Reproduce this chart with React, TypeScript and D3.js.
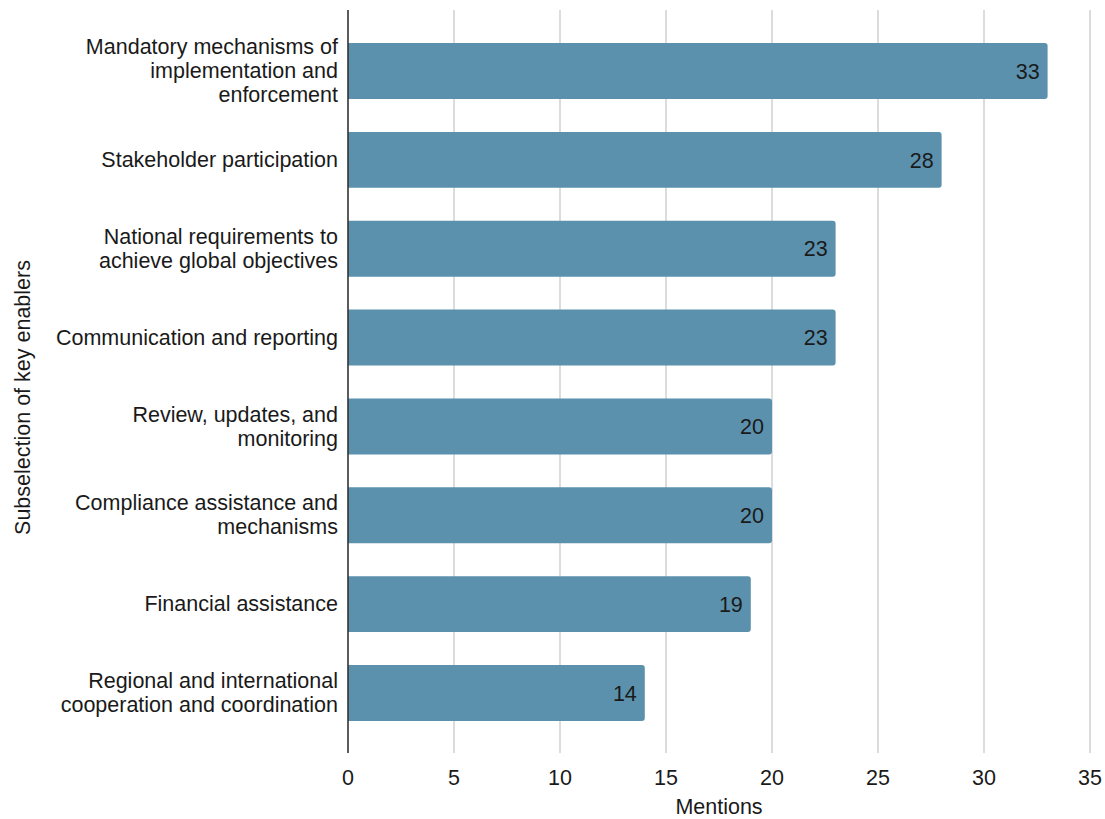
import React from "react";
import * as d3 from "d3";

const categories: string[][] = [
  ["Mandatory mechanisms of", "implementation and", "enforcement"],
  ["Stakeholder participation"],
  ["National requirements to", "achieve global objectives"],
  ["Communication and reporting"],
  ["Review, updates, and", "monitoring"],
  ["Compliance assistance and", "mechanisms"],
  ["Financial assistance"],
  ["Regional and international", "cooperation and coordination"],
];
const values: number[] = [33, 28, 23, 23, 20, 20, 19, 14];
const xTicks: number[] = [0, 5, 10, 15, 20, 25, 30, 35];
const xTitle = "Mentions";
const yTitle = "Subselection of key enablers";

const W = 1105;
const H = 819;
const FONT = "'Liberation Sans', Arial, sans-serif";
const FS = 21.5;

export default function App() {
  const x = d3.scaleLinear().domain([0, 35]).range([348, 1090]);
  const y = d3
    .scaleBand<number>()
    .domain(d3.range(categories.length))
    .range([26.6, 737.4])
    .paddingInner(0.37)
    .paddingOuter(0.185);
  const gridTop = 10;
  const gridBottom = 753;
  const lineH = 24;
  const r = 3;

  const barPath = (i: number) => {
    const x0 = x(0);
    const x1 = x(values[i]);
    const y0 = y(i)!;
    const h = y.bandwidth();
    return `M${x0},${y0}H${x1 - r}Q${x1},${y0} ${x1},${y0 + r}V${y0 + h - r}Q${x1},${y0 + h} ${x1 - r},${y0 + h}H${x0}Z`;
  };

  return (
    <svg
      width={W}
      height={H}
      style={{ position: "absolute", left: 0, top: 0, background: "#fff" }}
      fontFamily={FONT}
    >
      <rect x={0} y={0} width={W} height={H} fill="#fff" />
      {xTicks.map((t) =>
        t === 0 ? null : (
          <line key={"g" + t} x1={x(t)} x2={x(t)} y1={gridTop} y2={gridBottom} stroke="#d0d0d0" strokeWidth={1.5} />
        )
      )}
      {values.map((v, i) => (
        <g key={"b" + i}>
          <path d={barPath(i)} fill="#5b91ad" />
          <text
            x={x(v) - 8}
            y={y(i)! + y.bandwidth() / 2}
            dy="0.36em"
            textAnchor="end"
            fontSize={FS}
            fill="#1a1a1a"
          >
            {v}
          </text>
        </g>
      ))}
      <line x1={x(0)} x2={x(0)} y1={gridTop} y2={gridBottom} stroke="#333" strokeWidth={1.6} />
      {categories.map((lines, i) => {
        const cy = y(i)! + y.bandwidth() / 2;
        const start = cy - ((lines.length - 1) * lineH) / 2;
        return (
          <text key={"c" + i} textAnchor="end" fontSize={FS} fill="#1a1a1a">
            {lines.map((l, j) => (
              <tspan key={j} x={338} y={start + j * lineH} dy="0.33em">
                {l}
              </tspan>
            ))}
          </text>
        );
      })}
      {xTicks.map((t) => (
        <text key={"t" + t} x={x(t)} y={777} dy="0.36em" textAnchor="middle" fontSize={FS} fill="#1a1a1a">
          {t}
        </text>
      ))}
      <text x={719} y={806} dy="0.36em" textAnchor="middle" fontSize={FS} fill="#1a1a1a">
        {xTitle}
      </text>
      <text
        transform={`translate(22, ${(gridTop + gridBottom) / 2 + 16}) rotate(-90)`}
        textAnchor="middle"
        dy="0.36em"
        fontSize={FS}
        fill="#1a1a1a"
      >
        {yTitle}
      </text>
    </svg>
  );
}
